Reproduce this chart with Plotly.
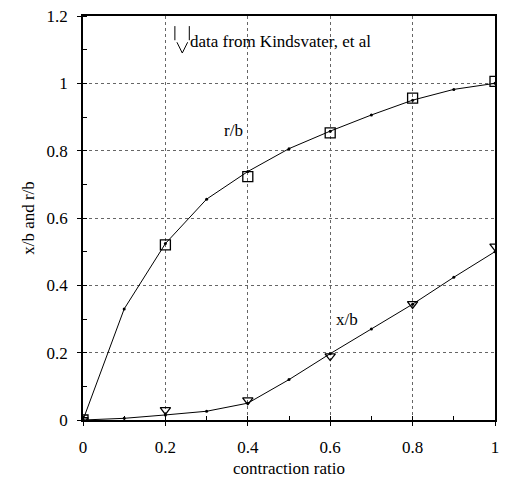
import plotly.graph_objects as go

# fitted curves (small dots every 0.1)
ratio = [0, 0.1, 0.2, 0.3, 0.4, 0.5, 0.6, 0.7, 0.8, 0.9, 1.0]
r_b = [0, 0.33, 0.524, 0.656, 0.738, 0.806, 0.858, 0.906, 0.950, 0.982, 1.0]
x_b = [0, 0.005, 0.015, 0.026, 0.05, 0.12, 0.197, 0.27, 0.344, 0.424, 0.50]

# data from Kindsvater, et al
data_ratio = [0, 0.2, 0.4, 0.6, 0.8, 1.0]
data_r_b = [0, 0.52, 0.723, 0.853, 0.956, 1.006]
data_x_b = [0, 0.03, 0.059, 0.19, 0.345, 0.516]

FONT = "Liberation Serif"
FS = 17
fig = go.Figure()
fig.add_trace(go.Scatter(x=ratio, y=r_b, mode="lines+markers",
                         line=dict(color="black", width=1),
                         marker=dict(size=3, color="black"), showlegend=False))
fig.add_trace(go.Scatter(x=ratio, y=x_b, mode="lines+markers",
                         line=dict(color="black", width=1),
                         marker=dict(size=3, color="black"), showlegend=False))
fig.add_trace(go.Scatter(x=data_ratio, y=data_r_b, mode="markers",
                         marker=dict(symbol="square-open", size=10, color="black",
                                     line=dict(width=1.3)), showlegend=False))
fig.add_trace(go.Scatter(x=data_ratio, y=data_x_b, mode="markers",
                         marker=dict(symbol="triangle-down-open", size=9, color="black",
                                     line=dict(width=1.3)), showlegend=False))

fig.add_annotation(x=0.365, y=0.86, text="r/b", showarrow=False,
                   font=dict(family=FONT, size=FS, color="black"), bgcolor="white")
fig.add_annotation(x=0.64, y=0.30, text="x/b", showarrow=False,
                   font=dict(family=FONT, size=FS, color="black"), bgcolor="white")
fig.add_annotation(x=0.255, y=1.124, xanchor="left", text="data from Kindsvater, et al",
                   showarrow=False, font=dict(family=FONT, size=FS, color="black"))
# legend glyph
fig.add_shape(type="line", x0=0.223, x1=0.223, y0=1.128, y1=1.17,
              line=dict(color="black", width=1))
fig.add_shape(type="line", x0=0.258, x1=0.258, y0=1.128, y1=1.17,
              line=dict(color="black", width=1))
fig.add_shape(type="path", path="M 0.228 1.122 L 0.241 1.09 L 0.254 1.122",
              line=dict(color="black", width=1))

axis_common = dict(showline=True, linecolor="black", linewidth=1.5, mirror=True,
                   showgrid=True, gridcolor="#666", griddash="dot", gridwidth=1,
                   zeroline=False, ticks="outside", ticklen=4, tickcolor="black",
                   tickfont=dict(family=FONT, size=FS, color="black"),
                   minor=dict(dtick=0.1, ticks="inside", ticklen=4, tickcolor="black",
                              showgrid=False))
fig.update_xaxes(range=[0, 1], tickvals=[0, 0.2, 0.4, 0.6, 0.8, 1],
                 ticktext=["0", "0.2", "0.4", "0.6", "0.8", "1"],
                 title=dict(text="contraction ratio", font=dict(family=FONT, size=FS, color="black"),
                            standoff=6),
                 ticklabelstandoff=7, **axis_common)
fig.update_yaxes(range=[0, 1.2], tickvals=[0, 0.2, 0.4, 0.6, 0.8, 1, 1.2],
                 ticktext=["0", "0.2", "0.4", "0.6", "0.8", "1", "1.2"],
                 title=dict(text="x/b and r/b", font=dict(family=FONT, size=FS, color="black"),
                            standoff=8),
                 ticklabelstandoff=6, **axis_common)
fig.update_layout(width=506, height=485, margin=dict(l=83, r=7, t=13, b=65),
                  plot_bgcolor="white", paper_bgcolor="white")
fig.write_html("out.html")
